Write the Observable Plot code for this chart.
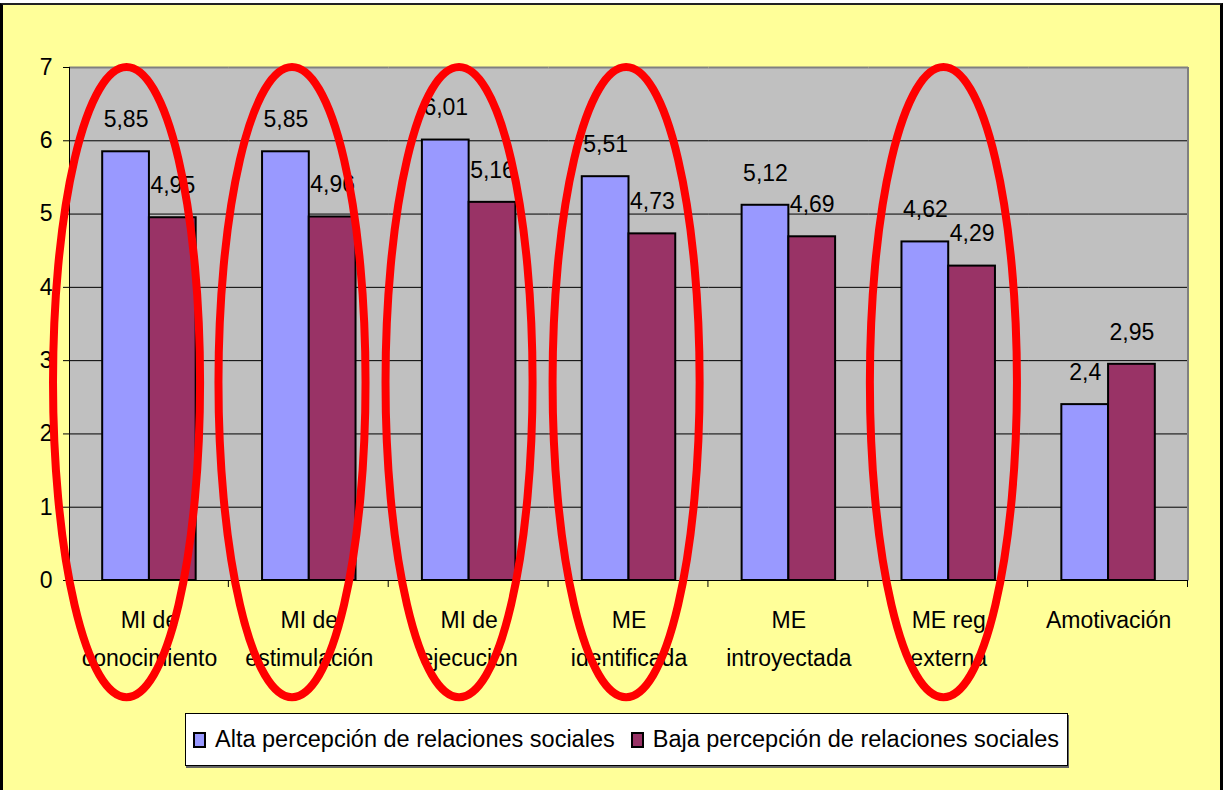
<!DOCTYPE html>
<html><head><meta charset="utf-8">
<script src="https://cdn.jsdelivr.net/npm/d3@7"></script>
<script src="https://cdn.jsdelivr.net/npm/@observablehq/plot@0.6"></script>
<style>
html,body{margin:0;padding:0;background:#fff;width:1227px;height:790px;overflow:hidden;font-family:"Liberation Sans",Arial,sans-serif;}
#frame{position:absolute;left:0;top:3px;width:1223px;height:800px;box-sizing:border-box;border:3px solid #000;border-top:2px solid #222;background:#ffff99;}
#chart{position:absolute;left:0;top:0;}
#legend{position:absolute;left:185px;top:713px;width:883px;height:53px;box-sizing:border-box;background:#fff;border:1px solid #000;box-shadow:1px 2px 0 #666;display:flex;align-items:center;font-size:23.5px;color:#000;white-space:nowrap;}
.item{display:flex;align-items:center;}
.sw{display:inline-block;width:13px;height:16px;box-sizing:border-box;border:2px solid #000;margin-right:9px;}
</style></head>
<body>
<div id="frame"></div>
<div id="chart"></div>
<div id="legend"></div>
<script>
const categories = ["MI de\nconocimiento","MI de\nestimulación","MI de\nejecución","ME\nidentificada","ME\nintroyectada","ME reg\nexterna","Amotivación"];
const series = ["Alta percepción de relaciones sociales","Baja percepción de relaciones sociales"];
const alta = [5.85,5.85,6.01,5.51,5.12,4.62,2.4];
const baja = [4.95,4.96,5.16,4.73,4.69,4.29,2.95];
const yTicks = [0,1,2,3,4,5,6,7];
const colors = ["#9999ff","#993366"];
// highlighted groups (red ellipses) and their horizontal shift (fraction of band)
const highlighted = ["MI de\nconocimiento","MI de\nestimulación","MI de\nejecución","ME\nidentificada","ME reg\nexterna"];
const highlightShift = [-0.14,-0.105,-0.06,-0.015,-0.03];

const data = categories.flatMap((c,i)=>[
  {cat:c, s:series[0], v:alta[i]},
  {cat:c, s:series[1], v:baja[i]}
]);

const chart = Plot.plot({
  width:1227, height:710,
  marginLeft:69, marginRight:39, marginTop:67, marginBottom:130,
  style:{background:"transparent", fontFamily:"Liberation Sans, Arial, sans-serif", fontSize:"23px", color:"#000", overflow:"visible"},
  fx:{domain:categories, padding:0, round:false, label:null, axis:null},
  x:{domain:series, paddingInner:0, paddingOuter:0.71, round:false, axis:null},
  y:{domain:[0,7], label:null},
  color:{domain:series, range:colors},
  marks:[
    Plot.frame({fill:"#c0c0c0", shapeRendering:"crispEdges"}),
    Plot.ruleY(yTicks.slice(1,-1), {stroke:"#000", strokeWidth:1}),
    Plot.ruleY([7], {stroke:"#808080", strokeWidth:2}),
    Plot.barY(data,{fx:"cat", x:"s", y:"v", fill:"s", stroke:"#000", strokeWidth:2}),
    Plot.text(data,{fx:"cat", x:"s", y:"v", text:d=>String(d.v).replace(".",","), dy:-32, fontSize:23, fill:"#000"}),
    Plot.axisY({ticks:yTicks, tickSize:6, tickPadding:11, fontSize:23, tickFormat:d=>String(d), stroke:"#000"}),
    Plot.axisFx({anchor:"bottom", tickSize:0, tickPadding:21, fontSize:23, lineHeight:1.65, label:null})
  ]
});
document.getElementById("chart").appendChild(chart);

const fx = chart.scale("fx"), y = chart.scale("y");
const bw = fx.bandwidth;
const svg = d3.select(chart);
const g = svg.append("g");
const x0 = fx.apply(categories[0]);
const xEnd = fx.apply(categories[categories.length-1]) + bw;
const y0 = y.apply(0), y7 = y.apply(7);
g.append("line").attr("x1",xEnd).attr("x2",xEnd).attr("y1",y7).attr("y2",y0).attr("stroke","#808080").attr("stroke-width",2);
g.append("line").attr("x1",x0+0.5).attr("x2",x0+0.5).attr("y1",y7).attr("y2",y0).attr("stroke","#000");
g.append("line").attr("x1",x0-6).attr("x2",xEnd).attr("y1",y0+0.5).attr("y2",y0+0.5).attr("stroke","#000");
categories.forEach(c=>{
  const xb = fx.apply(c)+bw;
  g.append("line").attr("x1",xb-0.5).attr("x2",xb-0.5).attr("y1",y0).attr("y2",y0+7).attr("stroke","#000");
});
const eTop = 7.0, eBottom = -1.6;
highlighted.forEach((c,i)=>{
  const cx = fx.apply(c) + bw/2 + highlightShift[i]*bw;
  const yt = y.apply(eTop), yb = y.apply(eBottom);
  g.append("ellipse").attr("cx",cx).attr("cy",(yt+yb)/2).attr("rx",0.46*bw).attr("ry",(yb-yt)/2)
    .attr("fill","none").attr("stroke","#ff0000").attr("stroke-width",8);
});

const legend = document.getElementById("legend");
series.forEach((s,i)=>{
  const it = document.createElement("div");
  it.className="item";
  it.style.marginLeft = i===0 ? "7px" : "16px";
  const sw = document.createElement("span");
  sw.className="sw"; sw.style.background=colors[i];
  const t = document.createElement("span"); t.textContent=s;
  it.appendChild(sw); it.appendChild(t);
  legend.appendChild(it);
});
</script>
</body></html>
